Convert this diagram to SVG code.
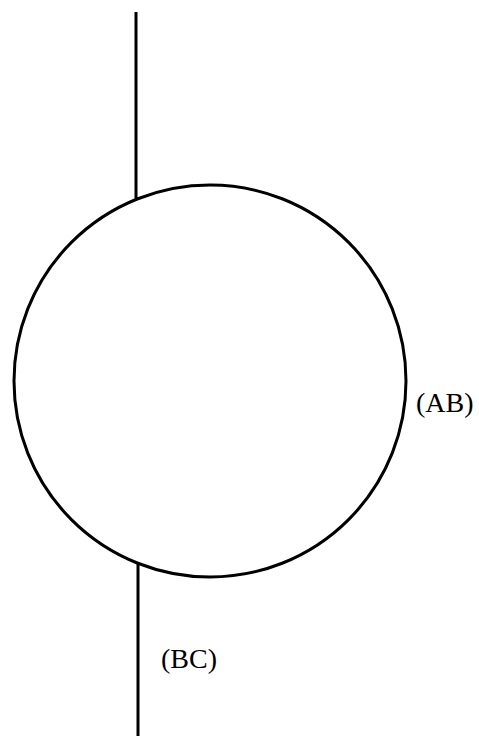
<svg xmlns="http://www.w3.org/2000/svg" width="479" height="736" viewBox="0 0 479 736">
<style>
.ln{stroke:#000;stroke-width:3;fill:none}
.lb{font-family:"Liberation Serif","DejaVu Serif",serif;font-size:28px;fill:#000}
</style>
<rect width="479" height="736" fill="#fff"/>
<g id="connectors">
<line class="ln" x1="136" y1="12" x2="136" y2="199"/>
<line class="ln" x1="138" y1="563" x2="138" y2="736"/>
</g>
<g id="circle">
<circle class="ln" cx="210" cy="381" r="196"/>
</g>
<g id="label-AB"><text class="lb" x="416" y="412">(AB)</text></g>
<g id="label-BC"><text class="lb" x="161" y="668">(BC)</text></g>
</svg>
